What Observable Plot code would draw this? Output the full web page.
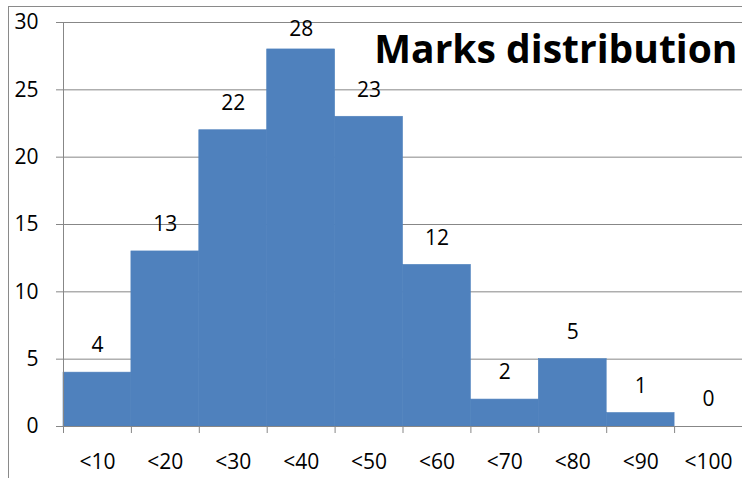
<!DOCTYPE html>
<html>
<head>
<meta charset="utf-8">
<script src="https://cdn.jsdelivr.net/npm/d3@7"></script>
<script src="https://cdn.jsdelivr.net/npm/@observablehq/plot@0.6"></script>
<style>
  html, body { margin: 0; padding: 0; background: #fff; }
  #wrap { position: relative; width: 742px; height: 478px; overflow: hidden; }
  #frame { position: absolute; left: 8px; top: 6px; right: -2px; bottom: -2px;
           border-left: 1px solid #8a8a8a; border-top: 1px solid #8a8a8a; pointer-events: none; }
</style>
</head>
<body>
<div id="wrap"><div id="frame"></div></div>
<script>
const categories = ["<10", "<20", "<30", "<40", "<50", "<60", "<70", "<80", "<90", "<100"];
const counts = [4, 13, 22, 28, 23, 12, 2, 5, 1, 0];
const yTicks = [0, 5, 10, 15, 20, 25, 30];
const title = "Marks distribution";

const data = categories.map((c, i) => ({i, cat: c, count: counts[i]}));
const maxCount = d3.max(counts);
const grid = "#878787";
const barColor = "#4F81BD";
const font = "'Open Sans', Lato, sans-serif";
const fs = 21;

const chart = Plot.plot({
  width: 742,
  height: 478,
  marginLeft: 63,
  marginRight: 0,
  marginTop: 22,
  marginBottom: 52,
  style: {fontFamily: font, fontSize: fs + "px", color: "#000", background: "transparent"},
  x: {domain: [0, categories.length], axis: null},
  y: {domain: [0, 30], axis: null},
  marks: [
    Plot.ruleY(yTicks, {stroke: grid, strokeWidth: 1}),
    Plot.axisY({ticks: yTicks, tickSize: 7, tickPadding: 18, stroke: grid, fontSize: fs, label: null}),
    Plot.rectY(data.filter(d => d.count > 0), {x1: "i", x2: d => d.i + 1, y: "count", fill: barColor, stroke: barColor, strokeWidth: 0.6}),
    Plot.ruleX([0], {stroke: grid}),
    Plot.ruleY([0], {stroke: grid}),
    Plot.axisX({ticks: d3.range(0, categories.length + 1), tickFormat: () => "", tickSize: 7, stroke: grid, label: null}),
    Plot.text(data, {x: d => d.i + 0.5, y: 0, text: "cat", dy: 36, fontSize: fs, lineAnchor: "middle"}),
    Plot.text(data.filter(d => d.count < maxCount), {x: d => d.i + 0.5, y: "count", text: d => String(d.count), dy: -27, fontSize: fs, lineAnchor: "middle"}),
    Plot.text(data.filter(d => d.count === maxCount), {x: d => d.i + 0.5, y: "count", text: d => String(d.count), dy: -20, fontSize: fs, lineAnchor: "middle"}),
    Plot.text([title], {frameAnchor: "top-right", textAnchor: "end", lineAnchor: "middle", dx: -5, dy: 28, fontSize: 39, fontWeight: "bold", text: d => d})
  ]
});
document.getElementById("wrap").prepend(chart);
</script>
</body>
</html>
